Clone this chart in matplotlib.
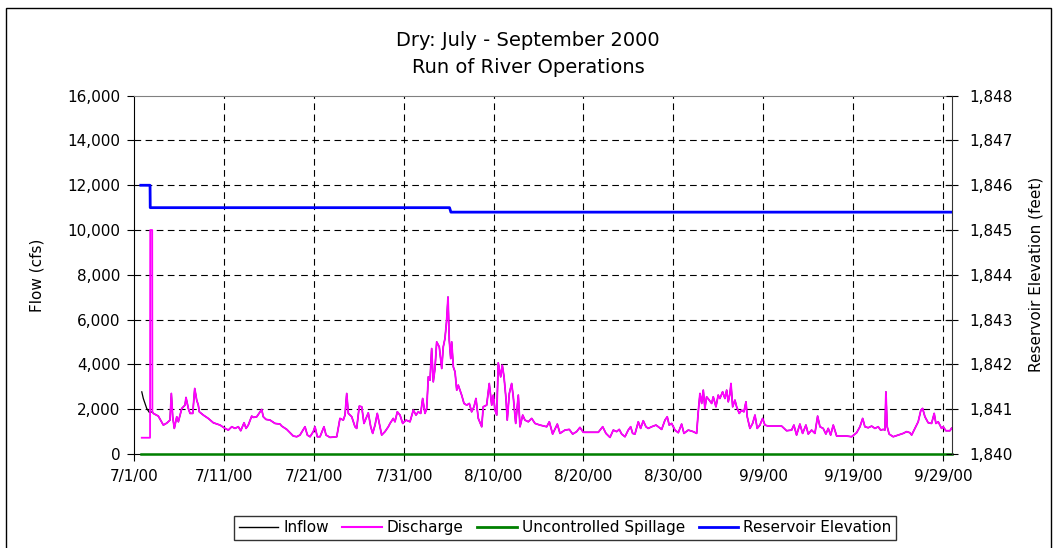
"""
Dry year (July - September 2000) run-of-river operations: flows and pool level.
"""
import matplotlib
matplotlib.use("Agg")
import matplotlib.pyplot as plt
from matplotlib.patches import Rectangle
from matplotlib.lines import Line2D
import numpy as np
import pandas as pd

START = pd.Timestamp("2000-07-01")

# ── Flow record (days after 7/1/00, cfs) ─────────────────────────────────────
discharge_day = [
    0.86, 1.78, 1.80, 2.02, 2.04, 2.15, 2.70, 3.26, 3.64, 4.00, 4.15, 4.30,
    4.48, 4.75, 4.93, 5.31, 5.67, 5.78, 6.04, 6.23, 6.53, 6.75, 6.97, 7.15,
    7.26, 7.71, 8.26, 8.82, 9.57, 10.12, 10.49, 10.87, 11.23, 11.60, 11.87,
    12.24, 12.46, 12.71, 13.09, 13.27, 13.65, 13.94, 14.20, 14.38, 14.68,
    15.13, 15.68, 16.24, 16.43, 16.99, 17.35, 17.72, 18.10, 18.46, 19.02,
    19.28, 19.58, 19.94, 20.13, 20.39, 20.69, 21.13, 21.36, 21.80, 22.55,
    22.91, 23.28, 23.47, 23.66, 23.84, 24.22, 24.58, 24.77, 25.06, 25.33,
    25.58, 25.88, 26.06, 26.33, 26.55, 26.81, 27.06, 27.29, 27.55, 27.92,
    28.29, 28.48, 28.84, 29.03, 29.29, 29.59, 29.89, 30.26, 30.70, 31.07,
    31.37, 31.62, 31.89, 32.11, 32.37, 32.56, 32.74, 32.93, 33.11, 33.29,
    33.48, 33.67, 33.96, 34.23, 34.40, 34.59, 34.78, 34.93, 35.07, 35.23,
    35.34, 35.52, 35.71, 35.90, 36.07, 36.45, 36.71, 37.01, 37.30, 37.56,
    37.82, 38.04, 38.30, 38.68, 38.85, 39.23, 39.52, 39.79, 39.97, 40.16,
    40.35, 40.52, 40.79, 40.97, 41.16, 41.38, 41.52, 41.75, 42.01, 42.19,
    42.46, 42.75, 42.94, 43.24, 43.49, 43.86, 44.24, 44.61, 45.16, 45.91,
    46.20, 46.57, 47.09, 47.39, 47.94, 48.42, 48.80, 49.24, 49.61, 49.98,
    51.65, 52.14, 52.50, 52.95, 53.32, 53.69, 53.98, 54.25, 54.62, 54.98,
    55.25, 55.47, 55.73, 56.10, 56.36, 56.65, 56.95, 57.21, 57.59, 58.07,
    58.32, 58.70, 59.07, 59.32, 59.54, 59.81, 60.18, 60.55, 60.92, 61.18,
    61.66, 62.21, 62.59, 62.77, 62.96, 63.15, 63.33, 63.51, 63.70, 63.99,
    64.26, 64.44, 64.74, 64.99, 65.18, 65.48, 65.74, 65.93, 66.11, 66.30,
    66.41, 66.60, 66.85, 67.04, 67.33, 67.60, 67.85, 68.08, 68.22, 68.52,
    68.82, 69.08, 69.33, 69.63, 69.93, 70.19, 70.56, 72.05, 72.60, 73.16,
    73.41, 73.71, 74.08, 74.38, 74.75, 75.01, 75.38, 75.75, 76.05, 76.31,
    76.67, 76.97, 77.23, 77.50, 77.79, 78.17, 78.90, 79.28, 79.83, 80.39,
    80.76, 81.06, 81.31, 81.68, 82.06, 82.43, 82.79, 83.06, 83.35, 83.54,
    83.65, 83.79, 84.01, 84.46, 85.02, 85.57, 85.95, 86.32, 86.51, 86.87,
    87.24, 87.54, 87.73, 87.99, 88.35, 88.73, 89.02, 89.21, 89.47, 89.84,
    90.02, 90.32, 90.77, 90.95,
]
discharge_cfs = [
    727, 727, 10000, 10000, 1885, 1813, 1693, 1292, 1381, 1515, 2703, 1663,
    1144, 1663, 1440, 2035, 2183, 2525, 2035, 1813, 1813, 2926, 2406, 2183,
    1885, 1738, 1589, 1396, 1292, 1144, 1069, 1218, 1144, 1218, 1040,
    1396, 1144, 1292, 1693, 1634, 1663, 1840, 1990, 1663, 1545,
    1515, 1366, 1336, 1247, 1099, 951, 802, 772, 847, 1218,
    847, 772, 1000, 1218, 772, 772, 1218, 847, 742, 772,
    1589, 1515, 1738, 2703, 1813, 1663, 1218, 1144, 2138, 2109,
    1366, 1663, 1840, 1218, 921, 1292, 1813, 1366, 847, 1000,
    1218, 1366, 1589, 1440, 1885, 1738, 1366, 1515, 1440, 1960,
    1738, 1885, 1813, 2480, 1813, 2035, 3447, 3297, 4709, 3224,
    3818, 5006, 4783, 3818, 4783, 5153, 5971, 7011, 5080, 4263,
    5006, 3892, 3669, 2852, 3075, 2629, 2258, 2183, 2258, 1885,
    2109, 2480, 1589, 1218, 2109, 2183, 3149, 2183, 2629, 1960,
    1738, 4070, 3447, 3967, 3447, 2480, 1515, 2703, 3149, 2554,
    1366, 2629, 1218, 1738, 1515, 1440, 1589, 1366, 1292, 1218,
    1440, 891, 1336, 921, 1069, 1099, 891, 1000, 1188, 970,
    970, 1218, 921, 742, 1069, 1000, 1099, 891, 772, 1069,
    1218, 921, 891, 1440, 1144, 1485, 1218, 1144, 1218, 1292,
    1218, 1099, 1515, 1663, 1292, 1366, 1069, 951, 1336, 921,
    1069, 1000, 921, 1885, 2703, 2258, 2852, 2035, 2554, 2406,
    2258, 2554, 2109, 2629, 2480, 2777, 2480, 2852, 2332, 2703,
    3149, 2109, 2406, 2109, 1813, 1960, 1885, 2332, 1663, 1144,
    1366, 1738, 1144, 1292, 1589, 1292, 1247, 1247, 1040, 1069,
    1292, 847, 1336, 921, 1292, 891, 1069, 921, 1693, 1218,
    1144, 891, 1144, 847, 1292, 802, 802, 802, 772, 951,
    1218, 1589, 1218, 1173, 1247, 1144, 1218, 1069, 1099, 1069,
    2777, 1218, 891, 772, 847, 921, 1000, 951, 847, 1144,
    1440, 1960, 2035, 1663, 1396, 1366, 1813, 1366, 1440, 1144,
    1218, 1040, 1040, 1150,
]

# inflow runs above the release for the first day, then tracks it
inflow_head_day = [0.86, 1.03, 1.22, 1.41, 1.70]
inflow_head_cfs = [2776, 2480, 2258, 2035, 1858]

spill_day = [0.75, 90.95]
spill_cfs = [0, 0]

# ── Pool level (days after 7/1/00, feet) ─────────────────────────────────────
elev_day = [0.75, 1.78, 1.80, 35.10, 35.25, 90.95]
elev_ft = [1846.0, 1846.0, 1845.5, 1845.5, 1845.4, 1845.4]

tick_days = [0, 10, 20, 30, 40, 50, 60, 70, 80, 90]
tick_labels = ["7/1/00", "7/11/00", "7/21/00", "7/31/00", "8/10/00",
               "8/20/00", "8/30/00", "9/9/00", "9/19/00", "9/29/00"]
flow_ticks = list(range(0, 16001, 2000))
elev_ticks = list(range(1840, 1849))


def to_dates(days):
    return START + pd.to_timedelta(np.asarray(days, dtype=float), unit="D")


tail = np.asarray(discharge_day) > 2.03
inflow_day = inflow_head_day + list(np.asarray(discharge_day)[tail])
inflow_cfs = inflow_head_cfs + list(np.asarray(discharge_cfs)[tail])

plt.rcParams["font.family"] = "DejaVu Sans"

fig = plt.figure(figsize=(10.58, 5.48), dpi=100)
ax = fig.add_axes([0.1267, 0.1715, 0.7731, 0.6539])
ax2 = ax.twinx()

C_IN, C_DIS, C_SPILL, C_ELEV = "black", "#FF00FF", "#008000", "#0000FF"

ax.plot(to_dates(inflow_day), inflow_cfs, color=C_IN, lw=0.9, zorder=3)
ax.plot(to_dates(discharge_day), discharge_cfs, color=C_DIS, lw=1.3, zorder=4)
# spillage sits on the zero line, so let it draw over the bottom spine
ax.plot(to_dates(spill_day), spill_cfs, color=C_SPILL, lw=1.8, zorder=5,
        clip_on=False)
ax2.plot(to_dates(elev_day), elev_ft, color=C_ELEV, lw=2.0)

ax.set_xlim(to_dates([0, 91]))
ax.set_ylim(0, 16000)
ax2.set_ylim(1840, 1848)

ax.set_xticks(to_dates(tick_days))
ax.set_xticklabels(tick_labels)
ax.set_yticks(flow_ticks)
ax.set_yticklabels([f"{v:,}" for v in flow_ticks])
ax2.set_yticks(elev_ticks)
ax2.set_yticklabels([f"{v:,}" for v in elev_ticks])

# dashed grid, skipping the lines that sit on the frame
ax.set_axisbelow(True)
ax.grid(True, color="black", lw=0.8, linestyle=(0, (6, 4)))
ax.get_xgridlines()[0].set_visible(False)
ax.get_ygridlines()[0].set_visible(False)
ax.get_ygridlines()[-1].set_visible(False)

for side in ["left", "bottom"]:
    ax.spines[side].set_color("black")
ax.spines["right"].set_visible(False)
ax.spines["top"].set_color("#808080")
for side in ["left", "bottom", "top"]:
    ax2.spines[side].set_visible(False)
ax2.spines["right"].set_color("#333333")

ax.tick_params(axis="y", direction="out", length=5, labelsize=11, pad=5)
ax.tick_params(axis="x", direction="out", length=5, labelsize=11, pad=6)
ax2.tick_params(axis="y", direction="inout", length=9, labelsize=11, pad=8)

ax.set_ylabel("Flow (cfs)", fontsize=11)
ax.yaxis.set_label_coords(-0.109, 0.5)
ax2.set_ylabel("Reservoir Elevation (feet)", fontsize=11)
ax2.yaxis.set_label_coords(1.093, 0.5)

fig.text(0.499, 0.927, "Dry: July - September 2000", ha="center",
         va="center", fontsize=14)
fig.text(0.499, 0.876, "Run of River Operations", ha="center",
         va="center", fontsize=14)

handles = [
    Line2D([], [], color=C_IN, lw=1.0),
    Line2D([], [], color=C_DIS, lw=1.5),
    Line2D([], [], color=C_SPILL, lw=2.0),
    Line2D([], [], color=C_ELEV, lw=2.0),
]
labels = ["Inflow", "Discharge", "Uncontrolled Spillage", "Reservoir Elevation"]
leg = fig.legend(handles, labels, loc="center", bbox_to_anchor=(0.534, 0.0365),
                 ncol=4, fontsize=11, frameon=True, fancybox=False,
                 handlelength=2.6, handletextpad=0.3, columnspacing=0.9,
                 borderpad=0.3, borderaxespad=0)
leg.get_frame().set_edgecolor("black")
leg.get_frame().set_linewidth(1.0)

# chart frame (runs off the bottom of the image)
fig.patches.append(Rectangle((6 / 1058, -0.1), 1045 / 1058, 1.1 - 8 / 548,
                             transform=fig.transFigure, fill=False,
                             edgecolor="black", lw=1.0))

fig.savefig("out.png", dpi=100, facecolor="white")
